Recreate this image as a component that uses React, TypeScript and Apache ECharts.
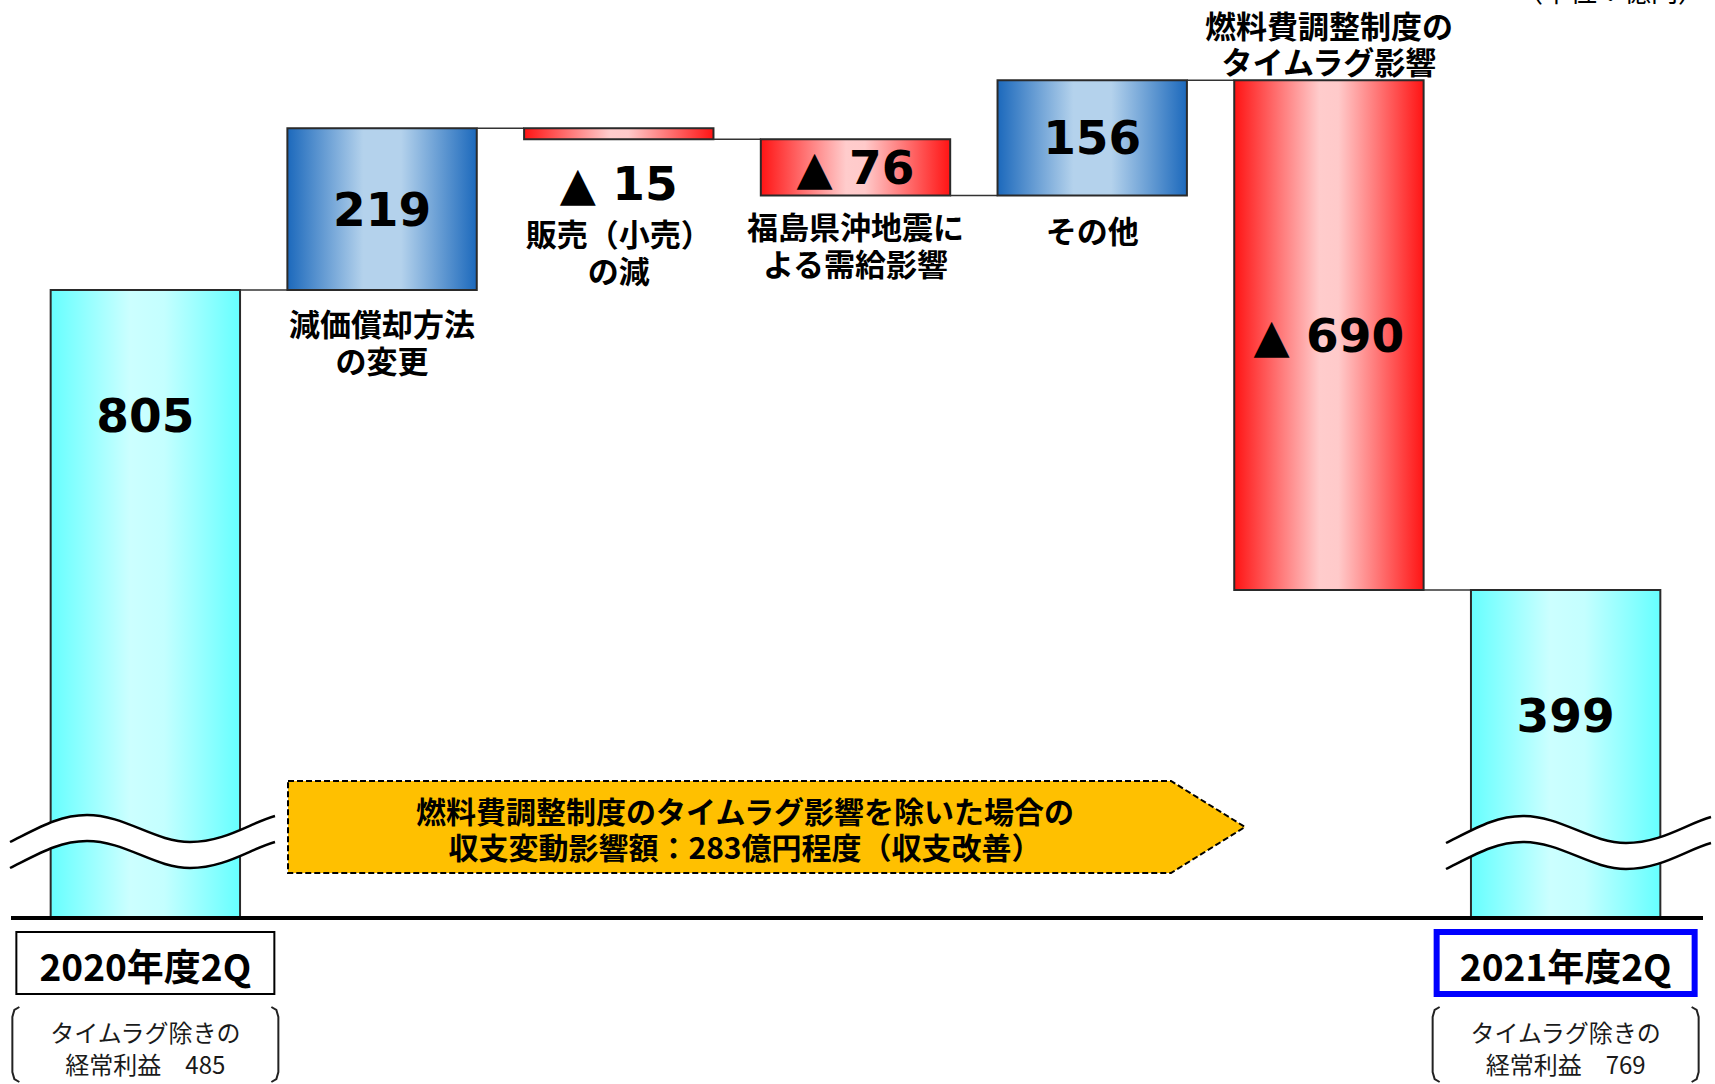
import React, { useEffect, useRef } from 'react';
import * as echarts from 'echarts';

// ---- data ----
const categories = [
  '2020年度2Q',
  '減価償却方法\nの変更',
  '販売（小売）\nの減',
  '福島県沖地震に\nよる需給影響',
  'その他',
  '燃料費調整制度の\nタイムラグ影響',
  '2021年度2Q',
];
const values = [805, 219, -15, -76, 156, -690, 399];
const isTotal = [true, false, false, false, false, false, true];
const totalNotes = ['タイムラグ除きの\n経常利益　485', '', '', '', '', '', 'タイムラグ除きの\n経常利益　769'];
const arrowText = '燃料費調整制度のタイムラグ影響を除いた場合の\n収支変動影響額：283億円程度（収支改善）';
const unitText = '（単位：億円）';
const Y_MIN = -45;
const Y_MAX = 1100;

// ---- style config (placement of texts relative to bars) ----
const valuePlacement = ['upper', 'center', 'below', 'center', 'center', 'center', 'upper'];
const catPlacement = ['box', 'below', 'below', 'below', 'below', 'above', 'box'];
const catOffset = [0, 14, 75, 12, 16, -2, 0];
const catLineHeight = [37, 37, 37, 37, 37, 36, 37];
const boxStroke = ['#000000', '', '', '', '', '', '#0000FF'];
const boxLineWidth = [2, 0, 0, 0, 0, 0, 6];

const NUM_FONT = "'DejaVu Sans', 'Noto Sans CJK JP', sans-serif";
const JP_FONT = "'Noto Sans CJK JP', sans-serif";

const WAVE_BAND =
  'M0,27 C30,12 50,0 77,0 C115,0 145,27 180,27 C215,27 240,8 265,1 L265,27 C240,34 215,53 180,53 C145,53 115,26 77,26 C50,26 30,38 0,53 Z';
const WAVE_LINES =
  'M0,27 C30,12 50,0 77,0 C115,0 145,27 180,27 C215,27 240,8 265,1 M0,53 C30,38 50,26 77,26 C115,26 145,53 180,53 C215,53 240,34 265,27';

echarts.graphic.registerShape('waveBand', echarts.graphic.extendPath(WAVE_BAND, {}));
echarts.graphic.registerShape('waveLines', echarts.graphic.extendPath(WAVE_LINES, {}));

function makeGrad(kind: string) {
  if (kind === 'total') {
    return new echarts.graphic.LinearGradient(0, 0, 1, 0, [
      { offset: 0, color: '#66FFFF' },
      { offset: 0.42, color: '#CCFFFF' },
      { offset: 0.6, color: '#C4FFFF' },
      { offset: 1, color: '#66FFFF' },
    ]);
  }
  if (kind === 'up') {
    return new echarts.graphic.LinearGradient(0, 0, 1, 0, [
      { offset: 0, color: '#1C69BC' },
      { offset: 0.4, color: '#B4D2EC' },
      { offset: 0.6, color: '#B4D2EC' },
      { offset: 1, color: '#1C69BC' },
    ]);
  }
  return new echarts.graphic.LinearGradient(0, 0, 1, 0, [
    { offset: 0, color: '#FF1414' },
    { offset: 0.45, color: '#FFCCCC' },
    { offset: 0.55, color: '#FFCACA' },
    { offset: 1, color: '#FF1414' },
  ]);
}

function buildRows() {
  let run = 0;
  return values.map((v, i) => {
    if (isTotal[i]) {
      run = v;
      return [i, Y_MIN, v, run, v];
    }
    const start = run;
    run += v;
    return [i, Math.min(start, run), Math.max(start, run), run, v];
  });
}

export default function App() {
  const ref = useRef<HTMLDivElement>(null);
  useEffect(() => {
    if (!ref.current) return;
    const chart = echarts.init(ref.current, undefined, { renderer: 'svg' });
    const rows = buildRows();
    const n = values.length;

    const renderItem = (params: any, api: any) => {
      const i = api.value(0);
      const low = api.value(1);
      const high = api.value(2);
      const cum = api.value(3);
      const v = api.value(4);
      const pTop = api.coord([i, high]);
      const pBot = api.coord([i, low]);
      const bw = api.size([1, 0])[0] * 0.8;
      const cx = pTop[0];
      const kind = isTotal[i] ? 'total' : v >= 0 ? 'up' : 'down';
      const children: any[] = [];
      children.push({
        type: 'rect',
        shape: { x: cx - bw / 2, y: pTop[1], width: bw, height: pBot[1] - pTop[1] },
        style: { fill: makeGrad(kind), stroke: '#2a2a2a', lineWidth: 2 },
      });
      if (i < n - 1) {
        const pc = api.coord([i, cum]);
        const pn = api.coord([i + 1, cum]);
        children.push({
          type: 'line',
          shape: { x1: cx + bw / 2, y1: pc[1], x2: pn[0] - bw / 2, y2: pc[1] },
          style: { stroke: '#333', lineWidth: 1.5 },
        });
      }
      // value label
      const label = v < 0 ? '▲ ' + Math.abs(v) : String(v);
      let ly = (pTop[1] + pBot[1]) / 2;
      if (valuePlacement[i] === 'upper') ly = pTop[1] + 126;
      if (valuePlacement[i] === 'below') ly = pBot[1] + 44;
      children.push({
        type: 'text',
        style: {
          text: label, x: cx, y: ly, align: 'center', verticalAlign: 'middle',
          fontSize: 47, fontWeight: 'bold', fontFamily: NUM_FONT, fill: '#000',
        },
      });
      // category labels
      if (catPlacement[i] === 'box') {
        const floor = api.coord([i, Y_MIN])[1];
        children.push({
          type: 'rect',
          shape: { x: cx - 129, y: floor + 14, width: 258, height: 62 },
          style: { fill: '#fff', stroke: boxStroke[i], lineWidth: boxLineWidth[i] },
        });
        children.push({
          type: 'text',
          style: {
            text: categories[i], x: cx, y: floor + 47, align: 'center', verticalAlign: 'middle',
            fontSize: 37, fontWeight: 'bold', fontFamily: JP_FONT, fill: '#000',
          },
        });
        const L = cx - 133, R = cx + 133, T = floor + 89, B = floor + 164;
        children.push({
          type: 'polyline',
          shape: { points: [[L + 7, T], [L + 2, T + 3], [L, T + 10], [L, B - 10], [L + 2, B - 3], [L + 7, B]] },
          style: { stroke: '#222', lineWidth: 2, fill: 'none' },
        });
        children.push({
          type: 'polyline',
          shape: { points: [[R - 7, T], [R - 2, T + 3], [R, T + 10], [R, B - 10], [R - 2, B - 3], [R - 7, B]] },
          style: { stroke: '#222', lineWidth: 2, fill: 'none' },
        });
        children.push({
          type: 'text',
          style: {
            text: totalNotes[i], x: cx, y: floor + 129, align: 'center', verticalAlign: 'middle',
            fontSize: 24, lineHeight: 32, fontFamily: JP_FONT, fill: '#1a1a1a',
          },
        });
      } else if (catPlacement[i] === 'above') {
        children.push({
          type: 'text',
          style: {
            text: categories[i], x: cx, y: pTop[1] + catOffset[i], align: 'center', verticalAlign: 'bottom',
            fontSize: 31, lineHeight: catLineHeight[i], fontWeight: 'bold', fontFamily: JP_FONT, fill: '#000',
          },
        });
      } else {
        children.push({
          type: 'text',
          style: {
            text: categories[i], x: cx, y: pBot[1] + catOffset[i], align: 'center', verticalAlign: 'top',
            fontSize: 31, lineHeight: catLineHeight[i], fontWeight: 'bold', fontFamily: JP_FONT, fill: '#000',
          },
        });
      }
      return { type: 'group', children };
    };

    chart.setOption({
      animation: false,
      grid: { left: 27, right: 31, top: 72, bottom: 166 },
      xAxis: {
        type: 'category', data: categories, show: false,
      },
      yAxis: {
        type: 'value', min: Y_MIN, max: Y_MAX, show: false, splitLine: { show: false },
      },
      series: [
        {
          type: 'custom',
          renderItem,
          clip: false,
          encode: { x: 0, y: [1, 2] },
          data: rows,
        },
      ],
      graphic: [
        {
          type: 'polygon', z: 100,
          shape: { points: [[288, 781], [1171, 781], [1245, 827], [1171, 873], [288, 873]] },
          style: { fill: '#FFC000', stroke: '#000', lineWidth: 2, lineDash: [6, 3] },
        },
        {
          type: 'text', z: 101, x: 745, y: 828,
          style: {
            text: arrowText, align: 'center', verticalAlign: 'middle',
            fontSize: 30, lineHeight: 36, fontWeight: 'bold', fontFamily: JP_FONT, fill: '#000',
          },
        },
        { type: 'waveBand', z: 100, x: 10, y: 815, style: { fill: '#fff', stroke: 'none' } },
        { type: 'waveLines', z: 101, x: 10, y: 815, style: { fill: 'none', stroke: '#000', lineWidth: 2.5 } },
        { type: 'waveBand', z: 100, x: 1446, y: 816, style: { fill: '#fff', stroke: 'none' } },
        { type: 'waveLines', z: 101, x: 1446, y: 816, style: { fill: 'none', stroke: '#000', lineWidth: 2.5 } },
        {
          type: 'line', z: 100,
          shape: { x1: 11, y1: 918, x2: 1703, y2: 918 },
          style: { stroke: '#000', lineWidth: 4 },
        },
        {
          type: 'text', z: 100, x: 1705, y: -23,
          style: {
            text: unitText, align: 'right', verticalAlign: 'top',
            fontSize: 27, fontFamily: JP_FONT, fill: '#000',
          },
        },
      ],
    });
    return () => chart.dispose();
  }, []);
  return (
    <div
      ref={ref}
      style={{ position: 'fixed', left: 0, top: 0, width: 1715, height: 1084, background: '#fff' }}
    />
  );
}
